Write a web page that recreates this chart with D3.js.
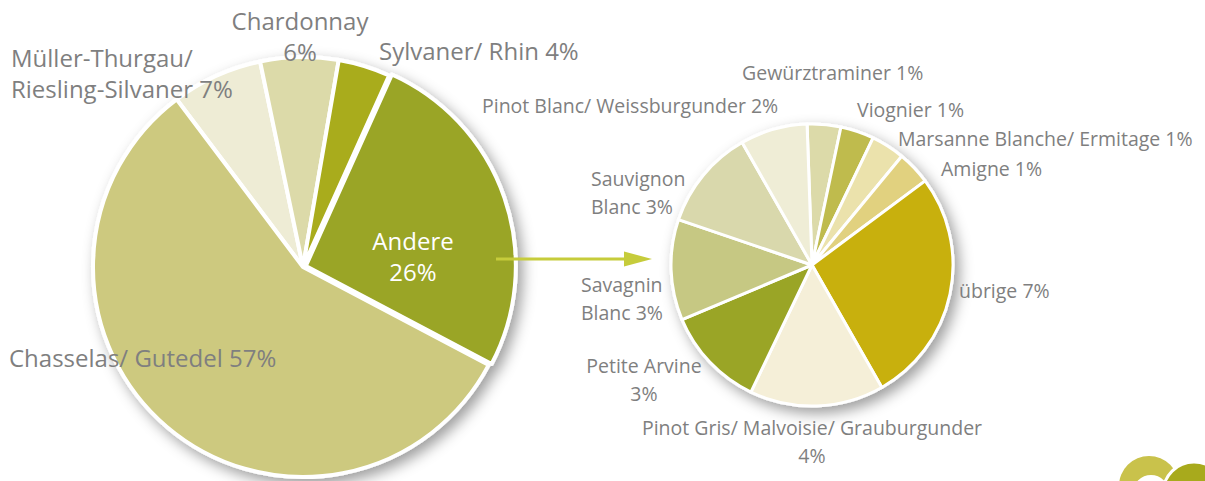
<!DOCTYPE html>
<html>
<head>
<meta charset="utf-8">
<script src="https://cdn.jsdelivr.net/npm/d3@7"></script>
<style>
  html, body { margin: 0; padding: 0; background: #ffffff; }
  svg { display: block; }
  text { font-family: "Open Sans", "Noto Sans", sans-serif; fill: #7f7f7f; }
</style>
</head>
<body>
<svg id="chart" width="1205" height="481"></svg>
<script>
// ---------- DATA ----------
const mainCategories = ["Müller-Thurgau/ Riesling-Silvaner", "Chardonnay", "Sylvaner/ Rhin", "Andere", "Chasselas/ Gutedel"];
const mainValues     = [7, 6, 4, 26, 57];
const mainLabels     = [["Müller-Thurgau/", "Riesling-Silvaner 7%"], ["Chardonnay", "6%"], ["Sylvaner/ Rhin 4%"], ["Andere", "26%"], ["Chasselas/ Gutedel 57%"]];

const subCategories = ["Gewürztraminer", "Viognier", "Marsanne Blanche/ Ermitage", "Amigne", "übrige", "Pinot Gris/ Malvoisie/ Grauburgunder", "Petite Arvine", "Savagnin Blanc", "Sauvignon Blanc", "Pinot Blanc/ Weissburgunder"];
const subValues     = [1, 1, 1, 1, 7, 4, 3, 3, 3, 2];
const subLabels     = [["Gewürztraminer 1%"], ["Viognier 1%"], ["Marsanne Blanche/ Ermitage 1%"], ["Amigne 1%"], ["übrige 7%"], ["Pinot Gris/ Malvoisie/ Grauburgunder", "4%"], ["Petite Arvine", "3%"], ["Savagnin", "Blanc 3%"], ["Sauvignon", "Blanc 3%"], ["Pinot Blanc/ Weissburgunder 2%"]];

// ---------- STYLE / LAYOUT ----------
const mainColors = ["#eeecd5", "#dcdaa9", "#a9ac1b", "#9aa527", "#cdc97f"];
const subColors  = ["#dcdaa9", "#bfbb4e", "#ebe2ac", "#e1d17f", "#c8b00c", "#f5efd8", "#9aa527", "#c6c883", "#d9d8ac", "#efedd6"];

const W = 1205, H = 481;
const main = { cx: 303, cy: 267, r: 210, start: -37, stroke: 4, font: 24 };
const sub  = { cx: 812, cy: 265, r: 141, start: -2,  stroke: 3, font: 19.5 };

// label placement: [x, baseline y, anchor, colour]
const mainLabelPos = [[11, 67, "start"], [300, 30, "middle"], [379, 60, "start"], [413, 250, "middle", "#ffffff"], [9, 367, "start"]];
const subLabelPos  = [[742, 80, "start"], [857, 117, "start"], [898, 146, "start"], [941, 176, "start"], [959, 298, "start"], [812, 435, "middle"], [644, 373, "middle"], [581, 292, "start"], [591, 186, "start"], [482, 113, "start"]];

const svg = d3.select("#chart");
const defs = svg.append("defs");
const f = defs.append("filter").attr("id", "shadow").attr("x", "-20%").attr("y", "-20%").attr("width", "150%").attr("height", "150%");
f.append("feDropShadow").attr("dx", 5).attr("dy", 6).attr("stdDeviation", 7).attr("flood-color", "#000").attr("flood-opacity", 0.38);

const rad = d => d * Math.PI / 180;

function drawPie(cfg, values, colors, names, explodeIndex) {
  const pie = d3.pie().sort(null).value(d => d)
    .startAngle(rad(cfg.start)).endAngle(rad(cfg.start) + 2 * Math.PI);
  const arcs = pie(values);
  const arc = d3.arc().innerRadius(0).outerRadius(cfg.r);
  const g = svg.append("g").attr("transform", `translate(${cfg.cx},${cfg.cy})`).attr("filter", "url(#shadow)");
  g.selectAll("path").data(arcs).join("path")
    .attr("d", arc)
    .attr("fill", (d, i) => colors[i])
    .attr("stroke", "#ffffff")
    .attr("stroke-width", cfg.stroke)
    .attr("stroke-linejoin", "round")
    .attr("transform", (d, i) => {
      if (i !== explodeIndex) return null;
      const m = (d.startAngle + d.endAngle) / 2;
      return `translate(${3 * Math.sin(m)},${-3 * Math.cos(m)})`;
    })
    .append("title").text((d, i) => names[i]);
  return arcs;
}

drawPie(main, mainValues, mainColors, mainCategories, 3);
drawPie(sub, subValues, subColors, subCategories, -1);

function drawLabels(labels, pos, size, lineH) {
  const g = svg.append("g");
  labels.forEach((lines, i) => {
    const p = pos[i];
    const t = g.append("text")
      .attr("x", p[0]).attr("y", p[1])
      .attr("text-anchor", p[2])
      .style("font-size", size + "px")
      .style("fill", p[3] || "#7f7f7f");
    lines.forEach((ln, j) => {
      t.append("tspan").attr("x", p[0]).attr("dy", j === 0 ? 0 : lineH).text(ln);
    });
  });
}
drawLabels(mainLabels, mainLabelPos, main.font, 31);
drawLabels(subLabels, subLabelPos, sub.font, 28);

// arrow from "Andere" to the detail pie
const ax1 = main.cx + main.r - 17, ax2 = sub.cx - sub.r - 44, ay = main.cy - 8;
const arrowColor = "#c6cc3b";
svg.append("line").attr("x1", ax1).attr("x2", ax2 - 2).attr("y1", ay).attr("y2", ay)
  .attr("stroke", arrowColor).attr("stroke-width", 3);
svg.append("path")
  .attr("d", d3.line()([[ax2 - 3, ay - 7.5], [ax2 + 25, ay], [ax2 - 3, ay + 7.5]]) + "Z")
  .attr("fill", arrowColor);

// logo fragment, bottom right
const logo = svg.append("g");
logo.append("circle").attr("cx", 1149).attr("cy", 486).attr("r", 30).attr("fill", "#c9c24b");
logo.append("circle").attr("cx", 1151).attr("cy", 493).attr("r", 18).attr("fill", "#ffffff");
logo.append("circle").attr("cx", 1194).attr("cy", 493).attr("r", 31).attr("fill", "#a8aa1c")
  .attr("stroke", "#ffffff").attr("stroke-width", 3);
</script>
</body>
</html>
